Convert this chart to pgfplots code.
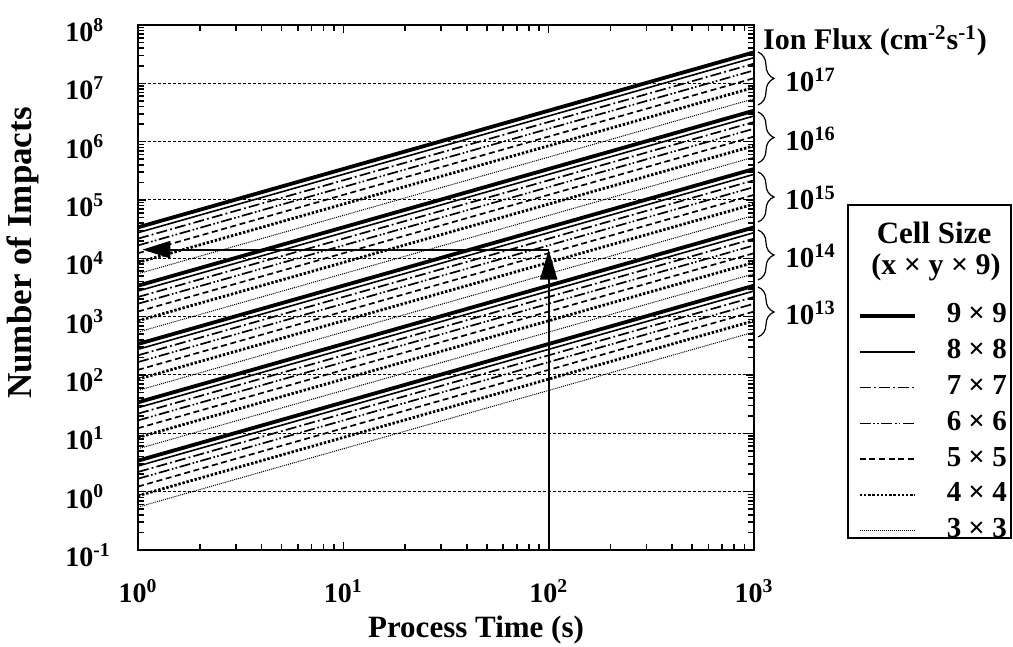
\documentclass[border=0pt]{standalone}
\usepackage{fontspec}
\setmainfont{Liberation Serif}
\usepackage{pgfplots}
\usepackage{pgfplotstable}
\pgfplotsset{compat=1.18}
\usetikzlibrary{arrows.meta,decorations.pathreplacing}

% Number of impacts at t = 1 s and t = 1000 s, one table per ion flux
\pgfplotstableread{
t n9 n8 n7 n6 n5 n4 n3
1 3.4 2.754 2.176 1.666 1.224 0.85 0.544
1000 3400 2754 2176 1666 1224 850 544
}\fluxA % 1e13
\pgfplotstableread{
t n9 n8 n7 n6 n5 n4 n3
1 34 27.54 21.76 16.66 12.24 8.5 5.44
1000 34000 27540 21760 16660 12240 8500 5440
}\fluxB % 1e14
\pgfplotstableread{
t n9 n8 n7 n6 n5 n4 n3
1 340 275.4 217.6 166.6 122.4 85 54.4
1000 340000 275400 217600 166600 122400 85000 54400
}\fluxC % 1e15
\pgfplotstableread{
t n9 n8 n7 n6 n5 n4 n3
1 3400 2754 2176 1666 1224 850 544
1000 3400000 2754000 2176000 1666000 1224000 850000 544000
}\fluxD % 1e16
\pgfplotstableread{
t n9 n8 n7 n6 n5 n4 n3
1 34000 27540 21760 16660 12240 8500 5440
1000 34000000 27540000 21760000 16660000 12240000 8500000 5440000
}\fluxE % 1e17

\pgfplotsset{
  c9/.style={black, line width=1.9bp},
  c8/.style={black, line width=0.8bp},
  c7/.style={black, line width=0.85bp, dash pattern=on 5.5bp off 1.6bp on 0.9bp off 1.6bp},
  c6/.style={black, line width=0.85bp, dash pattern=on 5.5bp off 1.3bp on 0.8bp off 1.1bp on 0.8bp off 1.3bp},
  c5/.style={black, line width=0.85bp, dash pattern=on 3bp off 1.8bp},
  c4/.style={black, line width=1.4bp, dash pattern=on 1.2bp off 0.9bp},
  c3/.style={black, line width=0.5bp, dash pattern=on 0.5bp off 0.5bp},
}

\begin{document}
\begin{tikzpicture}
\begin{axis}[
  at={(0,0)}, anchor=south west, scale only axis,
  width=308bp, height=262.5bp,
  xmode=log, ymode=log, log basis x=10, log basis y=10,
  xmin=1, xmax=1000, ymin=0.1, ymax=1e8,
  xtick={1,10,100,1000},
  ytick={0.1,1,10,100,1000,10000,100000,1000000,10000000,100000000},
  minor xtick={2,3,4,5,6,7,8,9,20,30,40,50,60,70,80,90,200,300,400,500,600,700,800,900},
  minor ytick={0.2,0.3,0.4,0.5,0.6,0.7,0.8,0.9,
    2,3,4,5,6,7,8,9,20,30,40,50,60,70,80,90,200,300,400,500,600,700,800,900,
    2e3,3e3,4e3,5e3,6e3,7e3,8e3,9e3,2e4,3e4,4e4,5e4,6e4,7e4,8e4,9e4,
    2e5,3e5,4e5,5e5,6e5,7e5,8e5,9e5,2e6,3e6,4e6,5e6,6e6,7e6,8e6,9e6,
    2e7,3e7,4e7,5e7,6e7,7e7,8e7,9e7},
  log number format basis/.code 2 args={#1\textsuperscript{\pgfmathprintnumber{#2}}},
  /pgf/number format/assume math mode=true,
  tick label style={font=\bfseries\fontsize{14bp}{16bp}\selectfont},
  yticklabel style={anchor=west, xshift=-36.5bp, yshift=-2.5bp, inner sep=0pt},
  xticklabel style={anchor=center, yshift=-20.5bp, inner sep=0pt},
  axis line style={line width=1.2bp},
  every tick/.style={black, line width=0.8bp},
  major tick length=4bp, minor tick length=3bp,
  ymajorgrids,
  major grid style={black, line width=0.5bp, dash pattern=on 1.5bp off 1bp},
  legend image code/.code={\draw[#1] (0bp,0bp) -- (27.5bp,0bp);},
  legend cell align=left,
  legend style={at={(axis description cs:1.1688,0.4705)}, anchor=north west,
    draw=none, fill=none, inner sep=0pt, outer sep=0pt,
    row sep=4.9bp, column sep=15bp,
    nodes={inner sep=0pt, text height=10bp, text depth=3bp},
    font=\bfseries\fontsize{14.5bp}{17bp}\selectfont},
]
% 1e13 group (legend entries)
\addplot[c9] table[x=t,y=n9]{\fluxA}; \addlegendentry{9 × 9}
\addplot[c8] table[x=t,y=n8]{\fluxA}; \addlegendentry{8 × 8}
\addplot[c7] table[x=t,y=n7]{\fluxA}; \addlegendentry{7 × 7}
\addplot[c6] table[x=t,y=n6]{\fluxA}; \addlegendentry{6 × 6}
\addplot[c5] table[x=t,y=n5]{\fluxA}; \addlegendentry{5 × 5}
\addplot[c4] table[x=t,y=n4]{\fluxA}; \addlegendentry{4 × 4}
\addplot[c3] table[x=t,y=n3]{\fluxA}; \addlegendentry{3 × 3}
% 1e14
\addplot[c9, forget plot] table[x=t,y=n9]{\fluxB};
\addplot[c8, forget plot] table[x=t,y=n8]{\fluxB};
\addplot[c7, forget plot] table[x=t,y=n7]{\fluxB};
\addplot[c6, forget plot] table[x=t,y=n6]{\fluxB};
\addplot[c5, forget plot] table[x=t,y=n5]{\fluxB};
\addplot[c4, forget plot] table[x=t,y=n4]{\fluxB};
\addplot[c3, forget plot] table[x=t,y=n3]{\fluxB};
% 1e15
\addplot[c9, forget plot] table[x=t,y=n9]{\fluxC};
\addplot[c8, forget plot] table[x=t,y=n8]{\fluxC};
\addplot[c7, forget plot] table[x=t,y=n7]{\fluxC};
\addplot[c6, forget plot] table[x=t,y=n6]{\fluxC};
\addplot[c5, forget plot] table[x=t,y=n5]{\fluxC};
\addplot[c4, forget plot] table[x=t,y=n4]{\fluxC};
\addplot[c3, forget plot] table[x=t,y=n3]{\fluxC};
% 1e16
\addplot[c9, forget plot] table[x=t,y=n9]{\fluxD};
\addplot[c8, forget plot] table[x=t,y=n8]{\fluxD};
\addplot[c7, forget plot] table[x=t,y=n7]{\fluxD};
\addplot[c6, forget plot] table[x=t,y=n6]{\fluxD};
\addplot[c5, forget plot] table[x=t,y=n5]{\fluxD};
\addplot[c4, forget plot] table[x=t,y=n4]{\fluxD};
\addplot[c3, forget plot] table[x=t,y=n3]{\fluxD};
% 1e17
\addplot[c9, forget plot] table[x=t,y=n9]{\fluxE};
\addplot[c8, forget plot] table[x=t,y=n8]{\fluxE};
\addplot[c7, forget plot] table[x=t,y=n7]{\fluxE};
\addplot[c6, forget plot] table[x=t,y=n6]{\fluxE};
\addplot[c5, forget plot] table[x=t,y=n5]{\fluxE};
\addplot[c4, forget plot] table[x=t,y=n4]{\fluxE};
\addplot[c3, forget plot] table[x=t,y=n3]{\fluxE};
% reading arrows
\addplot[forget plot, black, line width=1.1bp, -{Triangle[length=14bp,width=8.5bp]}]
  coordinates {(100,14100) (1.05,14100)};
\addplot[forget plot, black, line width=1.1bp, -{Triangle[length=15bp,width=8.5bp]}]
  coordinates {(100,0.1) (100,14100)};
\end{axis}

% axis titles
\node[rotate=90, font=\bfseries\fontsize{17.5bp}{20bp}\selectfont] at (-57.5bp,148.5bp) {Number of Impacts};
\node[anchor=base, font=\bfseries\fontsize{15.5bp}{18bp}\selectfont] at (169bp,-43.5bp) {Process Time (s)};

% ion flux braces
\node[anchor=base, font=\bfseries\fontsize{15bp}{18bp}\selectfont] at (368.5bp,250bp) {Ion Flux (cm\textsuperscript{-2}s\textsuperscript{-1})};
\foreach \top/\bot/\lab in {249/222.5/17, 219/193.5/16, 189/164/15, 160/135/14, 131.5/106.5/13}{
  \draw[decorate, decoration={brace, amplitude=8bp}, line width=0.6bp] (310bp,\top bp) -- (310bp,\bot bp);
  \pgfmathsetmacro{\mid}{(\top+\bot)/2-6.5}
  \node[anchor=base west, inner sep=0pt, font=\bfseries\fontsize{14.5bp}{17bp}\selectfont] at (323.5bp,\mid bp) {10\textsuperscript{\lab}};
}

% legend frame and title
\draw[line width=1bp] (355bp,6bp) rectangle (436.5bp,172.5bp);
\node[font=\bfseries\fontsize{15.5bp}{18bp}\selectfont] at (398bp,158.5bp) {Cell Size};
\node[font=\bfseries\fontsize{15bp}{18bp}\selectfont] at (399bp,141.5bp) {(x × y × 9)};

\pgfresetboundingbox
\path[use as bounding box] (-69bp,-48.5bp) rectangle (437.5bp,275bp);
\end{tikzpicture}
\end{document}
